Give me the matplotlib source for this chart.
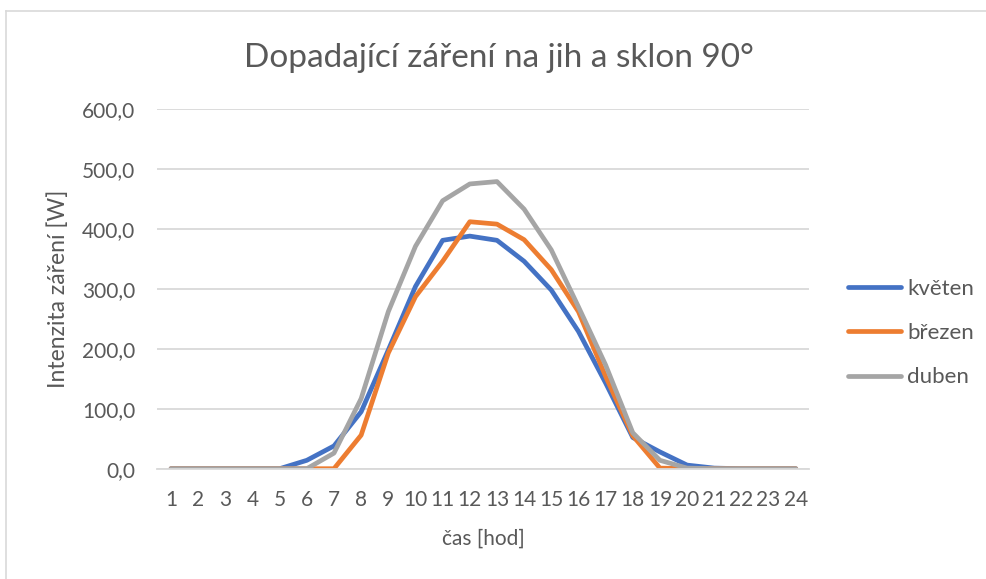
import matplotlib
matplotlib.use("Agg")
import matplotlib.pyplot as plt
from matplotlib.lines import Line2D
from matplotlib.ticker import FuncFormatter

plt.rcParams['font.family'] = ['Lato', 'DejaVu Sans']

hours = list(range(1, 25))
kveten = [0, 0, 0, 0, 0, 14, 38, 95, 198, 304, 381, 388, 381, 346, 298, 229, 143, 52, 28, 6, 1, 0, 0, 0]
brezen = [0, 0, 0, 0, 0, 0, 0, 56, 193, 287, 346, 412, 408, 382, 332, 262, 154, 55, 1, 0, 0, 0, 0, 0]
duben = [0, 0, 0, 0, 0, 0, 26, 117, 262, 371, 447, 475, 479, 433, 365, 270, 173, 60, 14, 1, 0, 0, 0, 0]

series = [("květen", kveten, "#4472C4"), ("březen", brezen, "#ED7D31"), ("duben", duben, "#A5A5A5")]
txt = "#595959"

fig = plt.figure(figsize=(9.87, 5.79), dpi=100)
ax = fig.add_axes([0.1595, 0.1905, 0.6605, 0.6212])

for name, vals, col in series:
    ax.plot(hours, vals, color=col, lw=3.4, label=name, solid_capstyle="round", solid_joinstyle="round")

ax.set_xlim(0.5, 24.5)
ax.set_ylim(0, 600)
ax.set_yticks(range(0, 601, 100))
ax.set_xticks(hours)
ax.yaxis.set_major_formatter(FuncFormatter(lambda v, p: f"{v:.1f}".replace(".", ",")))
ax.grid(axis="y", color="#d9d9d9", lw=1.3)
ax.set_axisbelow(True)
for s in ["top", "right", "left"]:
    ax.spines[s].set_visible(False)
ax.spines["bottom"].set_color("#d9d9d9")
ax.spines["bottom"].set_linewidth(1.3)
ax.tick_params(axis="both", length=0, labelsize=15, labelcolor=txt)
ax.tick_params(axis="x", pad=15)
ax.tick_params(axis="y", pad=16)

ax.set_xlabel("čas [hod]", fontsize=15, color=txt, labelpad=14)
ax.set_ylabel("Intenzita záření [W]", fontsize=16.5, color=txt, labelpad=9)
fig.text(0.5055, 0.9, "Dopadající záření na jih a sklon 90°", fontsize=24, color=txt, ha="center", va="center")

leg = fig.legend(loc="center left", bbox_to_anchor=(848 / 987, 1 - 333 / 579), frameon=False,
                 borderpad=0, borderaxespad=0,
                 fontsize=16, labelcolor=txt, handlelength=2.4, handletextpad=0.25, labelspacing=1.1)

fig.add_artist(Line2D([6 / 987, 1], [1 - 11 / 579, 1 - 11 / 579], color="#d9d9d9", lw=1.2, transform=fig.transFigure))
fig.add_artist(Line2D([6 / 987, 6 / 987], [0, 1 - 11 / 579], color="#d9d9d9", lw=1.2, transform=fig.transFigure))

fig.savefig("out.png", dpi=100)
